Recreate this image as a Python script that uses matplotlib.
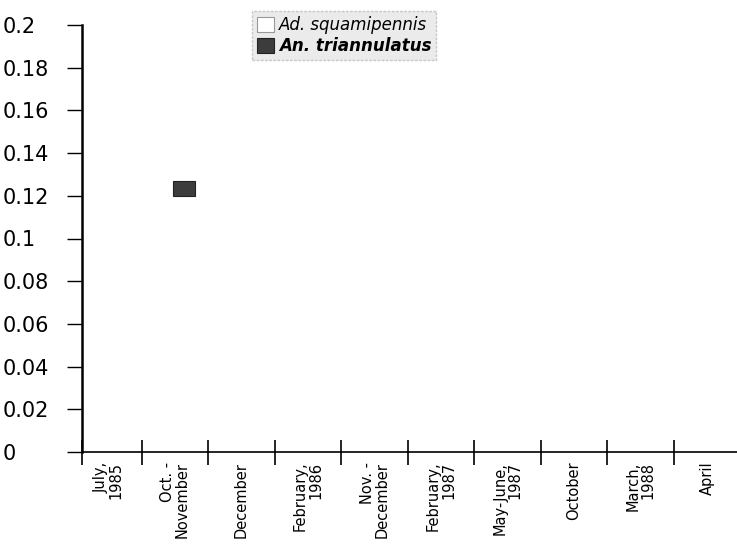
import matplotlib
matplotlib.use("Agg")
import matplotlib.pyplot as plt
from matplotlib.patches import Patch
import numpy as np

# categories (sampling dates)
periods = ["July,\n1985", "Oct. -\nNovember", "December", "February,\n1986",
           "Nov. -\nDecember", "February,\n1987", "May-June,\n1987", "October",
           "March,\n1988", "April"]
# stacked values per period
squamipennis = [0, 0.12, 0, 0, 0, 0, 0, 0, 0, 0]
triannulatus = [0, 0.007, 0, 0, 0, 0, 0, 0, 0, 0]
yticks = [0, 0.02, 0.04, 0.06, 0.08, 0.1, 0.12, 0.14, 0.16, 0.18, 0.2]
ytick_labels = ["0", "0.02", "0.04", "0.06", "0.08", "0.1", "0.12", "0.14", "0.16", "0.18", "0.2"]

W, H = 737, 544
fig = plt.figure(figsize=(W / 100, H / 100), dpi=100)
ax = fig.add_axes([82 / W, 1 - 452 / H, 1 - 82 / W, (452 - 25) / H])

x = np.arange(len(periods))
bar_off = 0.14
ax.bar(x + bar_off, squamipennis, width=0.33, color="white", edgecolor="none", zorder=2)
ax.bar(x + bar_off, triannulatus, width=0.33, bottom=squamipennis,
       color="#3c3c3c", edgecolor="#222222", linewidth=0.8, zorder=3)

ax.set_xlim(-0.4, 9.45)
ax.set_ylim(0, 0.2)

for s in ["top", "right"]:
    ax.spines[s].set_visible(False)
ax.spines["left"].set_linewidth(1.8)
ax.spines["bottom"].set_linewidth(1.2)

# y ticks, labels left aligned at the figure edge (pad/length in points, 1pt = 1.39px)
ax.set_yticks(yticks)
ax.set_yticklabels(ytick_labels, fontsize=15)
ax.tick_params(axis="y", direction="out", length=11, width=1.0, pad=46)
for lab in ax.get_yticklabels():
    lab.set_horizontalalignment("left")

# x: labels at category centers, ticks at boundaries
ax.set_xticks(x)
ax.set_xticklabels(periods, rotation=90, fontsize=10.5, va="top", ha="center",
                   multialignment="right", linespacing=1.0)
ax.tick_params(axis="x", which="major", length=0, pad=7)
ax.set_xticks([-0.4] + list(np.arange(0.5, 9, 1.0)), minor=True)
ax.tick_params(axis="x", which="minor", direction="inout", length=18, width=1.2)

handles = [Patch(facecolor="white", edgecolor="#999999", linewidth=0.8),
           Patch(facecolor="#3c3c3c", edgecolor="#222222", linewidth=0.8)]
leg = fig.legend(handles, ["Ad. squamipennis", "An. triannulatus"],
                 loc="upper left", bbox_to_anchor=(252 / W, 1 - 11 / H),
                 frameon=True, fancybox=False, fontsize=12,
                 handlelength=1.0, handleheight=1.0, handletextpad=0.3,
                 labelspacing=0.2, borderpad=0.3, borderaxespad=0)
leg.get_frame().set_facecolor("#e6e6e6")
leg.get_frame().set_edgecolor("#bdbdbd")
leg.get_frame().set_linestyle((0, (2, 1)))
texts = leg.get_texts()
texts[0].set_style("italic")
texts[1].set_style("italic")
texts[1].set_weight("bold")

fig.savefig("out.png", dpi=100)
